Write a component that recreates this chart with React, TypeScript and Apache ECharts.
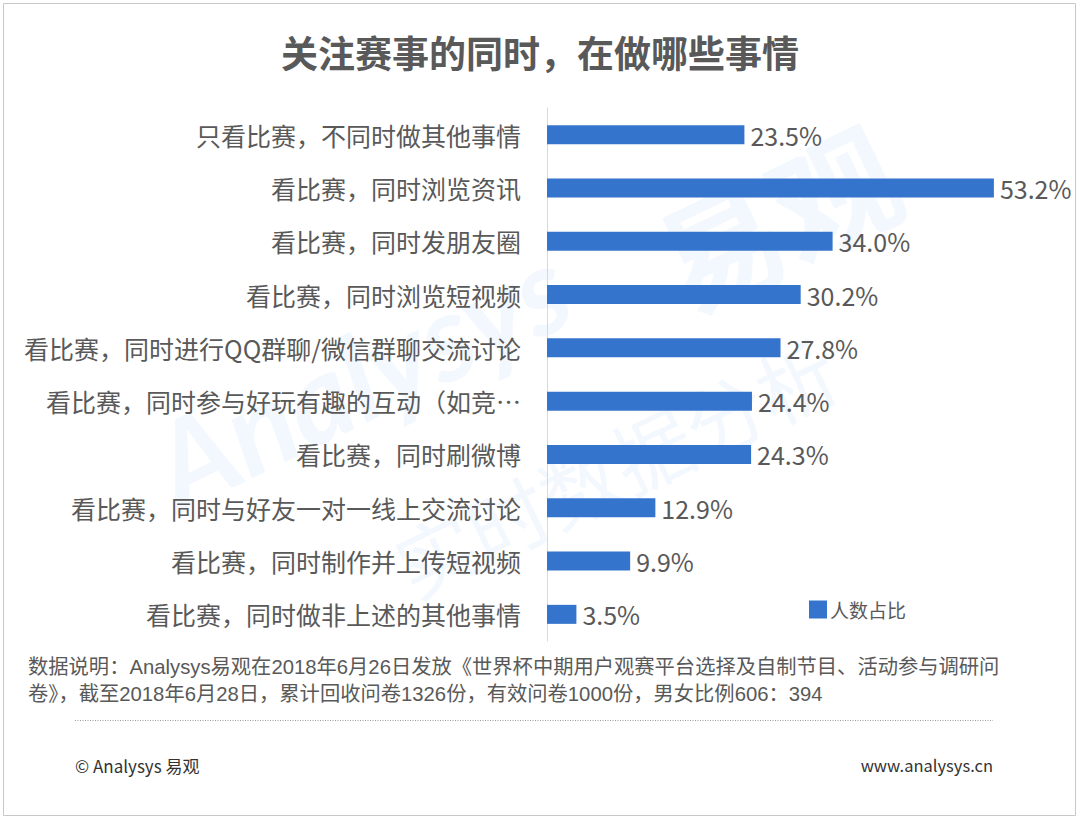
import React, { useEffect, useRef } from "react";
import * as echarts from "echarts";

const categories = [
  "只看比赛，不同时做其他事情",
  "看比赛，同时浏览资讯",
  "看比赛，同时发朋友圈",
  "看比赛，同时浏览短视频",
  "看比赛，同时进行QQ群聊/微信群聊交流讨论",
  "看比赛，同时参与好玩有趣的互动（如竞…",
  "看比赛，同时刷微博",
  "看比赛，同时与好友一对一线上交流讨论",
  "看比赛，同时制作并上传短视频",
  "看比赛，同时做非上述的其他事情",
];
const values = [23.5, 53.2, 34.0, 30.2, 27.8, 24.4, 24.3, 12.9, 9.9, 3.5];
const seriesName = "人数占比";
const titleText = "关注赛事的同时，在做哪些事情";
const noteLine1 = "数据说明：Analysys易观在2018年6月26日发放《世界杯中期用户观赛平台选择及自制节目、活动参与调研问";
const noteLine2 = "卷》，截至2018年6月28日，累计回收问卷1326份，有效问卷1000份，男女比例606：394";
const footerLeft = "© Analysys 易观";
const footerRight = "www.analysys.cn";

const FONT = '"Noto Sans CJK SC", "Microsoft YaHei", sans-serif';
const NOTE_FONT = '"Liberation Sans", "Noto Sans CJK SC", sans-serif';
const GRAY = "#595959";

export default function App() {
  const ref = useRef<HTMLDivElement>(null);
  useEffect(() => {
    document.body.style.margin = "0";
    const chart = echarts.init(ref.current!, null, { renderer: "svg" });
    const wm = "rgba(58,142,230,0.06)";
    chart.setOption({
      animation: false,
      backgroundColor: "#ffffff",
      textStyle: { fontFamily: FONT },
      title: {
        text: titleText,
        left: "center",
        top: 28,
        textStyle: { fontFamily: FONT, fontSize: 37, fontWeight: "bold", color: GRAY },
      },
      legend: {
        data: [seriesName],
        left: 804,
        top: 595,
        itemWidth: 18,
        itemHeight: 18,
        itemGap: 4,
        icon: "rect",
        textStyle: { fontFamily: FONT, fontSize: 19, color: GRAY, padding: [0, 0, 0, -2] },
      },
      grid: { left: 547, top: 108, width: 504, height: 533, containLabel: false },
      xAxis: {
        type: "value",
        min: 0,
        max: 60,
        show: false,
      },
      yAxis: {
        type: "category",
        data: categories,
        inverse: true,
        axisLine: { show: true, lineStyle: { color: "#d9d9d9", width: 1 } },
        axisTick: { show: false },
        axisLabel: { fontFamily: FONT, fontSize: 25, color: GRAY, margin: 26 },
        splitLine: { show: false },
      },
      series: [
        {
          name: seriesName,
          type: "bar",
          data: values,
          barWidth: 19,
          itemStyle: { color: "#3474CC" },
          label: {
            show: true,
            position: "right",
            distance: 6,
            fontFamily: FONT,
            fontSize: 25,
            color: GRAY,
            formatter: (p: any) => p.value.toFixed(1) + "%",
          },
          z: 3,
        },
      ],
      color: ["#3B8EDB"],
      graphic: [
        {
          type: "group",
          z: -10,
          silent: true,
          children: [
            {
              type: "text",
              x: 360,
              y: 375,
              rotation: 0.45,
              style: {
                text: "Analysys",
                fontFamily: "Lato, sans-serif",
                fontSize: 120,
                fontWeight: "bold",
                fontStyle: "italic",
                fill: wm,
                align: "center",
                verticalAlign: "middle",
              },
            },
            {
              type: "text",
              x: 775,
              y: 215,
              rotation: 0.45,
              style: {
                text: "易观",
                fontFamily: FONT,
                fontSize: 125,
                fontWeight: "bold",
                fill: wm,
                align: "center",
                verticalAlign: "middle",
              },
            },
            {
              type: "text",
              x: 615,
              y: 465,
              rotation: 0.45,
              style: {
                text: "实时数据分析",
                fontFamily: FONT,
                fontSize: 80,
                fill: wm,
                align: "center",
                verticalAlign: "middle",
              },
            },
          ],
        },
        {
          type: "rect",
          shape: { x: 3.5, y: 3.5, width: 1072, height: 812 },
          style: { fill: "none", stroke: "#c8c8c8", lineWidth: 1 },
          silent: true,
        },
        {
          type: "text",
          x: 28,
          y: 667,
          style: {
            text: noteLine1,
            fontFamily: NOTE_FONT,
            fontSize: 20.3,
            fill: GRAY,
            verticalAlign: "middle",
          },
        },
        {
          type: "text",
          x: 28,
          y: 694,
          style: {
            text: noteLine2,
            fontFamily: NOTE_FONT,
            fontSize: 20.3,
            fill: GRAY,
            verticalAlign: "middle",
          },
        },
        {
          type: "line",
          shape: { x1: 75, y1: 720.5, x2: 993, y2: 720.5 },
          style: { stroke: "#9a9a9a", lineWidth: 1, lineDash: [1, 1.5] },
          silent: true,
        },
        {
          type: "text",
          x: 75,
          y: 765,
          style: {
            text: footerLeft,
            fontFamily: FONT,
            fontSize: 17,
            fill: "#333333",
            verticalAlign: "middle",
          },
        },
        {
          type: "text",
          x: 993,
          y: 765,
          style: {
            text: footerRight,
            fontFamily: FONT,
            fontSize: 16.5,
            fill: "#333333",
            align: "right",
            verticalAlign: "middle",
          },
        },
      ],
    });
    return () => chart.dispose();
  }, []);
  return <div ref={ref} style={{ width: 1080, height: 821 }} />;
}
